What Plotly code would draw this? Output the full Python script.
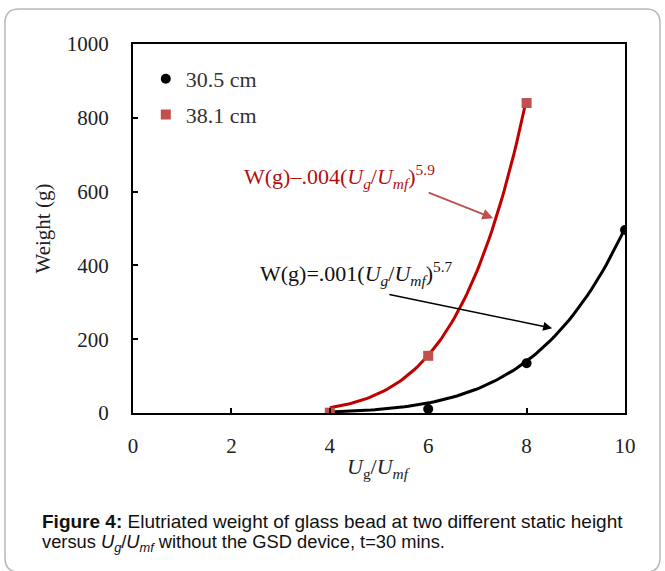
import numpy as np
import plotly.graph_objects as go

# --- data ---
x_305 = [6, 8, 10]
w_305 = [11, 135, 496]
x_381 = [4, 6, 8]
w_381 = [1, 155, 840]

# trendline coefficients shown on the chart (power fit W = a*(Ug/Umf)^b)
fit_305_a, fit_305_b, fit_305_range = 0.001, 5.7, (4, 10)
fit_381_a, fit_381_b, fit_381_range = 0.004, 5.9, (4, 8)

x_ticks = [0, 2, 4, 6, 8, 10]
y_ticks = [0, 200, 400, 600, 800, 1000]

SERIF = "Liberation Serif, Times New Roman, serif"
SANS = "Liberation Sans, Arial, sans-serif"
BLACK = "#000000"
RED_LINE = "#c00000"
RED_MARK = "#c0504d"

fx1 = np.linspace(*fit_305_range, 80)
fy1 = fit_305_a * fx1 ** fit_305_b
fx2 = np.linspace(*fit_381_range, 80)
fy2 = fit_381_a * fx2 ** fit_381_b

fig = go.Figure()
fig.add_trace(go.Scatter(x=fx1, y=fy1, mode="lines", line=dict(color=BLACK, width=3),
                         showlegend=False, hoverinfo="skip"))
fig.add_trace(go.Scatter(x=fx2, y=fy2, mode="lines", line=dict(color=RED_LINE, width=3),
                         showlegend=False, hoverinfo="skip"))
fig.add_trace(go.Scatter(x=x_305, y=w_305, mode="markers", name="30.5 cm",
                         marker=dict(symbol="circle", size=10, color=BLACK), legendgroup="a"))
fig.add_trace(go.Scatter(x=x_381, y=w_381, mode="markers", name="38.1 cm",
                         marker=dict(symbol="square", size=10, color=RED_MARK), legendgroup="b"))

axis_common = dict(showgrid=False, zeroline=False, showline=True, linecolor=BLACK, linewidth=2,
                   mirror=True, ticks="inside", ticklen=5, tickwidth=1.5, tickcolor=BLACK,
                   tickfont=dict(family=SERIF, size=21, color="#222"))

fig.update_layout(
    width=665, height=571,
    margin=dict(l=133, r=40, t=44, b=158),
    paper_bgcolor="white", plot_bgcolor="white",
    xaxis=dict(range=[0, 10], tickvals=x_ticks, ticklabelstandoff=13, **axis_common),
    yaxis=dict(range=[0, 1000], tickvals=y_ticks, ticklabelstandoff=18,
               title=dict(text="Weight (g)", font=dict(family=SERIF, size=21, color="#222"), standoff=10),
               **axis_common),
    legend=dict(x=0.026, y=0.962, xanchor="left", yanchor="top", bgcolor="rgba(0,0,0,0)",
                font=dict(family=SERIF, size=22, color="#333"), tracegroupgap=4),
    showlegend=True,
)

annotations = [
    dict(text="<i>U</i><sub>g</sub>/<i>U</i><sub><i>mf</i></sub>", xref="paper", yref="paper",
         x=0.5, y=-0.15, xanchor="center", yanchor="middle", showarrow=False,
         font=dict(family=SERIF, size=22, color="#222")),
    dict(text="W(g)\u2013.004(<i>U</i><sub><i>g</i></sub>/<i>U</i><sub><i>mf</i></sub>)<sup>5.9</sup>",
         x=2.22, y=642, xref="x", yref="y", xanchor="left", yanchor="middle", showarrow=False,
         font=dict(family=SERIF, size=22, color="#b01010")),
    dict(text="W(g)=.001(<i>U</i><sub><i>g</i></sub>/<i>U</i><sub><i>mf</i></sub>)<sup>5.7</sup>",
         x=2.55, y=379, xref="x", yref="y", xanchor="left", yanchor="middle", showarrow=False,
         font=dict(family=SERIF, size=22, color="#111")),
    dict(text="", x=7.32, y=528, ax=5.98, ay=599, xref="x", yref="y", axref="x", ayref="y",
         showarrow=True, arrowhead=2, arrowsize=1.2, arrowwidth=1.8, arrowcolor=RED_MARK),
    dict(text="", x=8.52, y=230, ax=5.18, ay=322, xref="x", yref="y", axref="x", ayref="y",
         showarrow=True, arrowhead=2, arrowsize=1.2, arrowwidth=1.5, arrowcolor=BLACK),
    dict(text="<b>Figure 4:</b> Elutriated weight of glass bead at two different static height",
         xref="paper", yref="paper", x=(40 - 133) / 492, y=(413 - 521) / 369,
         xanchor="left", yanchor="middle", showarrow=False,
         font=dict(family=SANS, size=19, color="#111")),
    dict(text="versus <i>U</i><sub><i>g</i></sub>/<i>U</i><sub><i>mf</i></sub> without the GSD device, t=30 mins.",
         xref="paper", yref="paper", x=(40 - 133) / 492, y=(413 - 543) / 369,
         xanchor="left", yanchor="middle", showarrow=False,
         font=dict(family=SANS, size=18.3, color="#111")),
]
fig.update_layout(annotations=annotations)

# rounded outer frame (pixel positions converted to paper coordinates)
def px(x):
    return (x - 133) / 492
def py(y):
    return (413 - y) / 369
L, R, T, B, r = 5, 660, 9, 572, 14
path = (f"M {px(L + r)},{py(T)} L {px(R - r)},{py(T)} Q {px(R)},{py(T)} {px(R)},{py(T + r)} "
        f"L {px(R)},{py(B - r)} Q {px(R)},{py(B)} {px(R - r)},{py(B)} "
        f"L {px(L + r)},{py(B)} Q {px(L)},{py(B)} {px(L)},{py(B - r)} "
        f"L {px(L)},{py(T + r)} Q {px(L)},{py(T)} {px(L + r)},{py(T)} Z")
fig.add_shape(type="path", path=path, xref="paper", yref="paper",
              line=dict(color="#b8b8b8", width=1.5), layer="below")

fig.write_html("out.html")
